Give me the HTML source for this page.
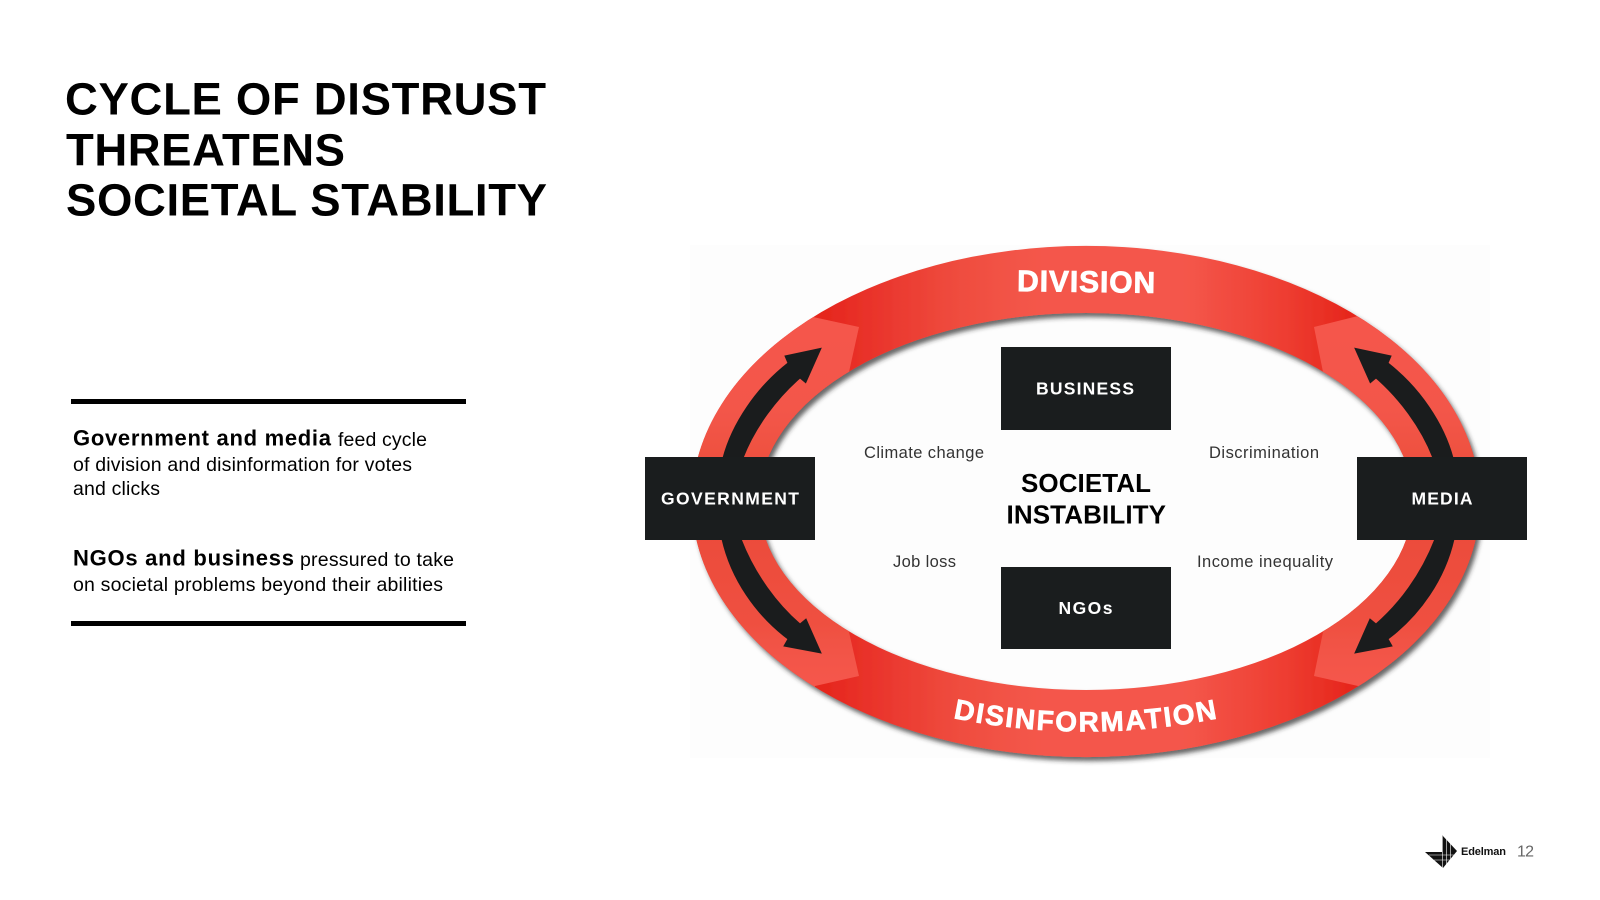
<!DOCTYPE html>
<html lang="en">
<head>
<meta charset="utf-8">
<title>Cycle of Distrust Threatens Societal Stability</title>
<style>
html,body{margin:0;padding:0;background:#fff;width:1600px;height:900px;overflow:hidden}
svg{display:block;font-family:"Liberation Sans",Arial,sans-serif}
</style>
</head>
<body>
<svg width="1600" height="900" viewBox="0 0 1600 900" xmlns="http://www.w3.org/2000/svg">
<defs>
  <linearGradient id="bandGrad" gradientUnits="userSpaceOnUse" x1="813" y1="0" x2="1358" y2="0">
    <stop offset="0" stop-color="#e5241a"/>
    <stop offset="0.1" stop-color="#e9322a"/>
    <stop offset="0.27" stop-color="#ef4d3f"/>
    <stop offset="0.42" stop-color="#f4574b"/>
    <stop offset="0.68" stop-color="#f4574b"/>
    <stop offset="0.86" stop-color="#ee3e32"/>
    <stop offset="1" stop-color="#e5241a"/>
  </linearGradient>
  <linearGradient id="sideTop" gradientUnits="userSpaceOnUse" x1="0" y1="330" x2="0" y2="460">
    <stop offset="0" stop-color="#f5574c"/>
    <stop offset="0.6" stop-color="#f3564a"/>
    <stop offset="1" stop-color="#ee503f"/>
  </linearGradient>
  <linearGradient id="sideBot" gradientUnits="userSpaceOnUse" x1="0" y1="540" x2="0" y2="680">
    <stop offset="0" stop-color="#ec4c3b"/>
    <stop offset="0.6" stop-color="#ef5041"/>
    <stop offset="1" stop-color="#f5574c"/>
  </linearGradient>
  <clipPath id="cLT"><polygon points="600,501.5 600,200 790,240 813,317 859,327 849,372 862,400 862,501.5"/></clipPath>
  <clipPath id="cLB"><polygon points="600,501.5 600,800 790,760 815,686 859,676 849,632 862,600 862,501.5"/></clipPath>
  <clipPath id="cRT"><polygon points="1560,501.5 1560,200 1380,240 1358,316 1314,327 1323,372 1310,400 1310,501.5"/></clipPath>
  <clipPath id="cRB"><polygon points="1560,501.5 1560,800 1380,760 1358,686 1314,676 1323,632 1310,600 1310,501.5"/></clipPath>
  <filter id="shadow" x="-5%" y="-5%" width="110%" height="110%">
    <feDropShadow dx="3" dy="4" stdDeviation="2.4" flood-color="#2a2a2a" flood-opacity="0.7"/>
  </filter>
  <path id="ring" fill-rule="evenodd" d="M692,501.5 A394,255.5 0 1 0 1480,501.5 A394,255.5 0 1 0 692,501.5 Z M759,501.5 A327,188.5 0 1 1 1413,501.5 A327,188.5 0 1 1 759,501.5 Z"/>
  <path id="arrowTop" d="M723,458 C732,424 756,388 788,363 L785,356 L821,348.3 L805.7,382.7 L800,378 C777,398 755,427 743,458 Z"/>
  <path id="arrowBot" d="M722,539 C731,579 756,615 788,639 L784,646 L821,653 L806,619 L800,624 C777,604 755,575 741,539 Z"/>
  <path id="disinfoPath" d="M953,718 Q1085,745 1220,718"/>
</defs>

<!-- Title -->
<g font-weight="700" font-size="45.5" fill="#000">
  <text x="65" y="114.5" textLength="481" lengthAdjust="spacing">CYCLE OF DISTRUST</text>
  <text x="66" y="165.5" textLength="279" lengthAdjust="spacing">THREATENS</text>
  <text x="66" y="215.5" textLength="481" lengthAdjust="spacing">SOCIETAL STABILITY</text>
</g>

<!-- Side text -->
<rect x="71" y="399" width="395" height="5" fill="#000"/>
<rect x="71" y="621" width="395" height="5" fill="#000"/>
<g fill="#000">
  <text x="73" y="445.5" font-size="22" font-weight="700" textLength="258" lengthAdjust="spacing">Government and media</text>
  <text x="338" y="446" font-size="19.5" textLength="89" lengthAdjust="spacing">feed cycle</text>
  <text x="73" y="471" font-size="19.5" textLength="339" lengthAdjust="spacing">of division and disinformation for votes</text>
  <text x="73" y="495" font-size="19.5" textLength="87" lengthAdjust="spacing">and clicks</text>
  <text x="73" y="565.5" font-size="22" font-weight="700" textLength="221" lengthAdjust="spacing">NGOs and business</text>
  <text x="300" y="566" font-size="19.5" textLength="154" lengthAdjust="spacing">pressured to take</text>
  <text x="73" y="591" font-size="19.5" textLength="370" lengthAdjust="spacing">on societal problems beyond their abilities</text>
</g>

<!-- Diagram background -->
<rect x="690" y="245" width="800" height="513" fill="#fdfdfd"/>

<!-- Ring -->
<g filter="url(#shadow)">
  <use href="#ring" fill="url(#bandGrad)"/>
  <g clip-path="url(#cLT)"><use href="#ring" fill="url(#sideTop)"/></g>
  <g clip-path="url(#cLB)"><use href="#ring" fill="url(#sideBot)"/></g>
  <g clip-path="url(#cRT)"><use href="#ring" fill="url(#sideTop)"/></g>
  <g clip-path="url(#cRB)"><use href="#ring" fill="url(#sideBot)"/></g>
</g>

<!-- Curved arrows -->
<g fill="#1a1c1d" stroke="#1a1c1d" stroke-width="1">
  <use href="#arrowTop"/>
  <use href="#arrowBot"/>
  <use href="#arrowTop" transform="translate(2176,0) scale(-1,1)"/>
  <use href="#arrowBot" transform="translate(2176,0) scale(-1,1)"/>
</g>

<!-- Ring labels -->
<text x="1017" y="292" font-size="30" font-weight="700" fill="#fff" stroke="#fff" stroke-width="0.8" textLength="138" lengthAdjust="spacing" transform="rotate(0.7 1086 293)">DIVISION</text>
<text font-size="28" font-weight="700" fill="#fff" stroke="#fff" stroke-width="0.7" letter-spacing="1.85"><textPath href="#disinfoPath" startOffset="0">DISINFORMATION</textPath></text>

<!-- Boxes -->
<g fill="#1a1d1e">
  <rect x="645" y="457" width="170" height="83"/>
  <rect x="1357" y="457" width="170" height="83"/>
  <rect x="1001" y="347" width="170" height="83"/>
  <rect x="1001" y="567" width="170" height="82"/>
</g>
<g fill="#fff" font-weight="700" font-size="17.5">
  <text x="661" y="504.5" textLength="138" lengthAdjust="spacing">GOVERNMENT</text>
  <text x="1411.5" y="504.5" textLength="61" lengthAdjust="spacing">MEDIA</text>
  <text x="1036" y="394.5" textLength="98" lengthAdjust="spacing">BUSINESS</text>
  <text x="1058.5" y="614" textLength="54" lengthAdjust="spacing">NGOs</text>
</g>

<!-- Centre -->
<g fill="#000" font-weight="700" font-size="26">
  <text x="1021" y="492" textLength="130" lengthAdjust="spacing">SOCIETAL</text>
  <text x="1006.5" y="523.5" textLength="159.5" lengthAdjust="spacing">INSTABILITY</text>
</g>
<g fill="#333" font-size="16.5">
  <text x="864" y="458" textLength="120" lengthAdjust="spacing">Climate change</text>
  <text x="1209" y="458" textLength="110" lengthAdjust="spacing">Discrimination</text>
  <text x="893" y="567" textLength="63" lengthAdjust="spacing">Job loss</text>
  <text x="1197" y="567" textLength="136" lengthAdjust="spacing">Income inequality</text>
</g>

<!-- Footer -->
<polygon points="1442,835 1457,851 1443,868 1425,852 1442,852" fill="#111"/>
<g stroke="#fff" stroke-width="0.6" fill="none">
  <path d="M1442.5,835V868M1446.5,838V865M1450.5,843V861M1429,855H1456M1434,860H1451"/>
</g>
<text x="1461" y="855" font-size="11" font-weight="700" fill="#111" textLength="45" lengthAdjust="spacing">Edelman</text>
<text x="1517" y="856.5" font-size="16" fill="#666" textLength="17" lengthAdjust="spacing">12</text>
</svg>
</body>
</html>
